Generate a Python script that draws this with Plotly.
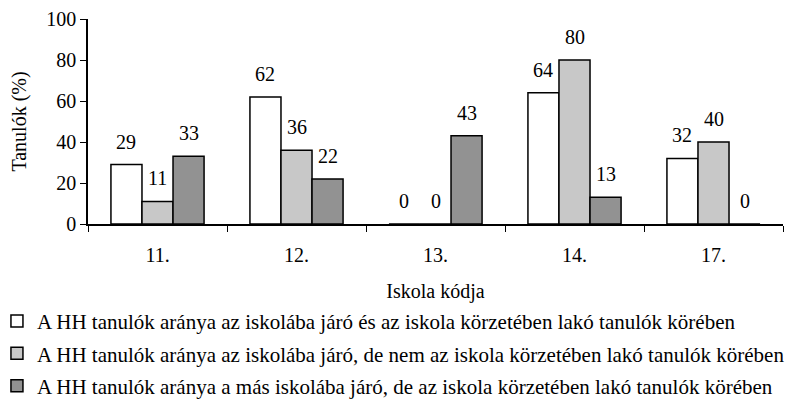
import plotly.graph_objects as go

categories = ["11.", "12.", "13.", "14.", "17."]
series_names = [
    "A HH tanulók aránya az iskolába járó és az iskola körzetében lakó tanulók körében",
    "A HH tanulók aránya az iskolába járó, de nem az iskola körzetében lakó tanulók körében",
    "A HH tanulók aránya a más iskolába járó, de az iskola körzetében lakó tanulók körében",
]
values_1 = [29, 62, 0, 64, 32]
values_2 = [11, 36, 0, 80, 40]
values_3 = [33, 22, 43, 13, 0]
colors = ["#FFFFFF", "#C8C8C8", "#929292"]
y_ticks = [0, 20, 40, 60, 80, 100]

FONT = "Liberation Serif, Times New Roman, serif"
FS = 20
BARGAP = 0.33

all_values = [values_1, values_2, values_3]
n_series = len(all_values)
bar_w = (1 - BARGAP) / n_series

fig = go.Figure()
for i, (name, vals) in enumerate(zip(series_names, all_values)):
    fig.add_trace(go.Bar(
        x=categories, y=vals, name=name,
        marker=dict(color=colors[i], line=dict(color="black", width=1.5)),
        cliponaxis=False, legendgroup=f"g{i}",
    ))
    # value labels, placed via the axis scales (category index + group offset)
    for k, v in enumerate(vals):
        fig.add_annotation(
            x=k + (i - (n_series - 1) / 2) * bar_w, y=v,
            xref="x", yref="y", text=str(v), showarrow=False,
            yanchor="bottom", yshift=10,
            font=dict(family=FONT, size=FS, color="black"),
        )

fig.update_layout(
    width=791, height=398,
    margin=dict(l=80, r=16, t=11, b=182, autoexpand=False),
    paper_bgcolor="white", plot_bgcolor="white",
    font=dict(family=FONT, size=FS, color="black"),
    barmode="group", bargap=BARGAP, bargroupgap=0,
    showlegend=True,
    legend=dict(
        xref="paper", yref="paper",
        x=-0.131, y=-0.375, xanchor="left", yanchor="top",
        font=dict(family=FONT, size=21, color="black"),
        tracegroupgap=2, itemwidth=30,
        bgcolor="rgba(0,0,0,0)",
    ),
    xaxis=dict(
        showline=True, linecolor="black", linewidth=1.5,
        ticks="outside", tickson="boundaries", ticklen=6, tickcolor="black",
        title=dict(text="Iskola kódja", font=dict(family=FONT, size=FS), standoff=19),
        tickfont=dict(family=FONT, size=FS), tickangle=0, ticklabelstandoff=12,
    ),
    yaxis=dict(
        range=[0, 100], tickvals=y_ticks,
        showline=True, linecolor="black", linewidth=1.5,
        ticks="outside", ticklen=6, tickcolor="black",
        showgrid=False, zeroline=False,
        title=dict(text="Tanulók (%)", font=dict(family=FONT, size=FS), standoff=16),
        tickfont=dict(family=FONT, size=FS),
    ),
)

fig.write_html("out.html")
